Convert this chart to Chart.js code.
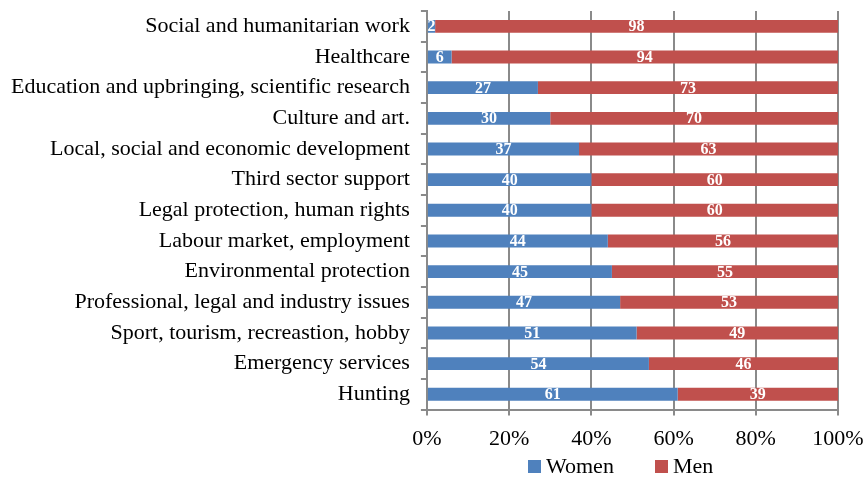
<!DOCTYPE html>
<html lang="en">
<head>
<meta charset="UTF-8">
<title>Women and men by field</title>
<script src="https://cdn.jsdelivr.net/npm/chart.js@4.4.1/dist/chart.umd.min.js"></script>
<style>
  html, body { margin: 0; padding: 0; background: #fff; }
  #wrap { position: relative; width: 865px; height: 477px; }
  #legend {
    position: absolute; left: 528px; top: 453px;
    display: flex; align-items: center;
    font-family: 'Liberation Serif', 'Times New Roman', serif; font-size: 22px; color: #000;
  }
  #legend span.box { display: inline-block; width: 13px; height: 13px; margin-right: 5px; }
  #legend span.item { display: flex; align-items: center; margin-right: 41px; }
</style>
</head>
<body>
<div id="wrap">
  <canvas id="chart" width="865" height="477"></canvas>
  <div id="legend"></div>
</div>
<script>
const categories = [
  "Social and humanitarian work",
  "Healthcare",
  "Education and upbringing, scientific research",
  "Culture and art.",
  "Local, social and economic development",
  "Third sector support",
  "Legal protection, human rights",
  "Labour market, employment",
  "Environmental protection",
  "Professional, legal and industry issues",
  "Sport, tourism, recreastion, hobby",
  "Emergency services",
  "Hunting"
];
const women = [2, 6, 27, 30, 37, 40, 40, 44, 45, 47, 51, 54, 61];
const men = [98, 94, 73, 70, 63, 60, 60, 56, 55, 53, 49, 46, 39];

const serif = "'Liberation Serif', 'Times New Roman', serif";
const gridGrey = "#8a8a8a";

// white numbers in the middle of each segment
const barLabels = {
  id: "barLabels",
  afterDatasetsDraw(chart) {
    const ctx = chart.ctx;
    ctx.save();
    ctx.fillStyle = "#fff";
    ctx.font = "bold 16px " + serif;
    ctx.textAlign = "center";
    ctx.textBaseline = "middle";
    chart.data.datasets.forEach((ds, i) => {
      chart.getDatasetMeta(i).data.forEach((bar, j) => {
        const p = bar.getProps(["x", "y", "base"], true);
        ctx.fillText(ds.data[j], (p.x + p.base) / 2, p.y + 1);
      });
    });
    ctx.restore();
  }
};

const chart = new Chart(document.getElementById("chart"), {
  type: "bar",
  data: {
    labels: categories,
    datasets: [
      { label: "Women", data: women, backgroundColor: "#4f81bd" },
      { label: "Men", data: men, backgroundColor: "#c0504d" }
    ]
  },
  options: {
    indexAxis: "y",
    responsive: false,
    animation: false,
    categoryPercentage: 1,
    barPercentage: 0.42,
    layout: { padding: { top: 11, right: 0, left: 0, bottom: 15 } },
    scales: {
      x: {
        stacked: true,
        min: 0,
        max: 100,
        afterFit: s => { s.paddingRight = 27; s.paddingLeft = 0; },
        ticks: {
          stepSize: 20,
          color: "#000",
          font: { family: serif, size: 22 },
          padding: 10,
          callback: v => v + "%"
        },
        grid: { color: gridGrey, lineWidth: 2, tickLength: 6 },
        border: { color: gridGrey, width: 2 }
      },
      y: {
        stacked: true,
        afterFit: s => { s.paddingTop = 0; s.paddingBottom = 0; },
        ticks: {
          color: "#000",
          font: { family: serif, size: 22 },
          padding: 11,
          autoSkip: false
        },
        grid: { drawOnChartArea: false, color: gridGrey, lineWidth: 2, tickLength: 6 },
        border: { color: gridGrey, width: 2 }
      }
    },
    plugins: {
      legend: { display: false },
      tooltip: { enabled: false }
    }
  },
  plugins: [barLabels]
});

// legend built from the datasets
const legendEl = document.getElementById("legend");
chart.data.datasets.forEach(ds => {
  const item = document.createElement("span");
  item.className = "item";
  const box = document.createElement("span");
  box.className = "box";
  box.style.background = ds.backgroundColor;
  item.appendChild(box);
  item.appendChild(document.createTextNode(ds.label));
  legendEl.appendChild(item);
});
</script>
</body>
</html>
